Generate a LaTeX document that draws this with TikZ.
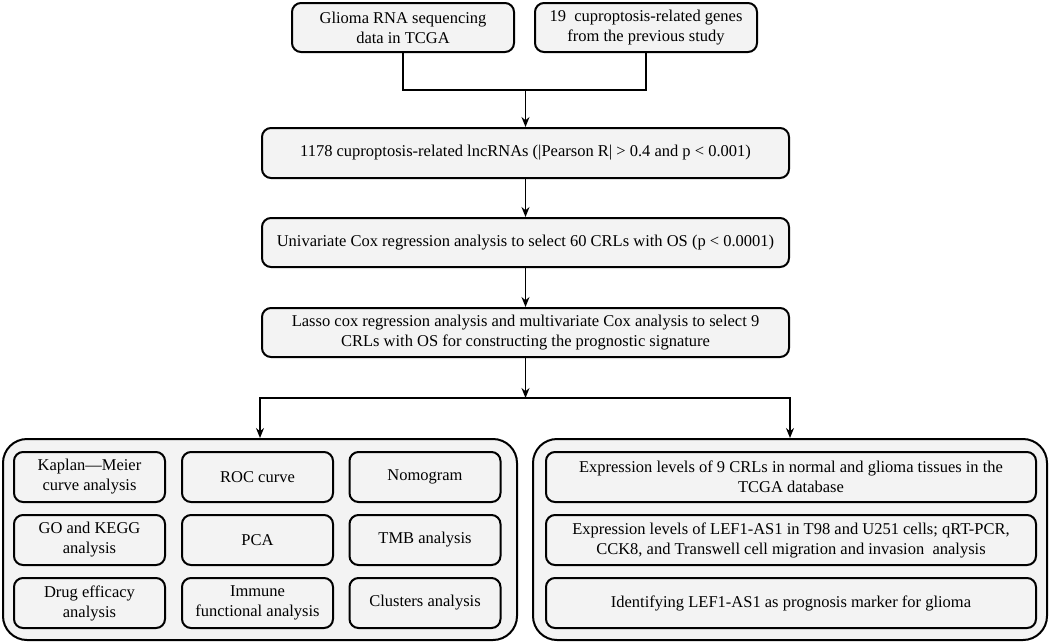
\documentclass[tikz,border=0pt]{standalone}
\usepackage{fontspec}
\setmainfont{Liberation Serif}
\usepackage{xcolor}
\usetikzlibrary{arrows.meta}

\definecolor{boxfill}{HTML}{F3F3F3}

\begin{document}
\begin{tikzpicture}[x=1pt, y=-1pt,
    font=\fontsize{16.5}{20}\selectfont,
    stepbox/.style={rectangle, draw, rounded corners=9pt, line width=2pt, fill=boxfill, align=center, inner sep=2pt},
    panel/.style={rectangle, draw, rounded corners=24pt, line width=2pt, fill=boxfill, minimum width=514pt, minimum height=201pt},
    ->/.style={-{Stealth[length=10pt, width=8pt]}},
    every path/.style={line width=1.4pt}]
    \useasboundingbox (0,0) rectangle (1052,643);

    \node (glioma) [stepbox, minimum width=222pt, minimum height=49pt] at (403,27.5) {Glioma RNA sequencing\\data in TCGA};
    \node (genes) [stepbox, minimum width=222pt, minimum height=49pt] at (646,27.5) {19\ \ cuproptosis-related genes\\from the previous study};
    \node (lnc) [stepbox, minimum width=527pt, minimum height=50pt] at (525.5,153) {1178 cuproptosis-related lncRNAs (|Pearson R| > 0.4 and p < 0.001)};
    \node (unicox) [stepbox, minimum width=527pt, minimum height=49pt] at (525.5,242.5) {Univariate Cox regression analysis to select 60 CRLs with OS (p < 0.0001)};
    \node (lasso) [stepbox, minimum width=527pt, minimum height=49pt] at (525.5,332.5) {Lasso cox regression analysis and multivariate Cox analysis to select 9\\CRLs with OS for constructing the prognostic signature};

    \node (lpanel) [panel] at (260,539.5) {};
    \node (rpanel) [panel] at (790,539.5) {};

    % left panel
    \node (km) [stepbox, minimum width=151pt, minimum height=50pt] at (89.5,477) {Kaplan\textemdash Meier\\curve analysis};
    \node (roc) [stepbox, minimum width=151pt, minimum height=50pt] at (257.5,477) {ROC curve};
    \node (nomo) [stepbox, minimum width=151pt, minimum height=50pt] at (425,477) {Nomogram};
    \node (go) [stepbox, minimum width=151pt, minimum height=50pt] at (89.5,540) {GO and KEGG\\analysis};
    \node (pca) [stepbox, minimum width=151pt, minimum height=50pt] at (257.5,540) {PCA};
    \node (tmb) [stepbox, minimum width=151pt, minimum height=50pt] at (425,540) {TMB analysis};
    \node (drug) [stepbox, minimum width=151pt, minimum height=50pt] at (89.5,603) {Drug efficacy\\analysis};
    \node (immune) [stepbox, minimum width=151pt, minimum height=50pt] at (257.5,603) {Immune\\functional analysis};
    \node (clust) [stepbox, minimum width=151pt, minimum height=50pt] at (425,603) {Clusters analysis};

    % right panel
    \node (exprtcga) [stepbox, minimum width=490pt, minimum height=50pt] at (791,477) {Expression levels of 9 CRLs in normal and glioma tissues in the\\TCGA database};
    \node (exprcell) [stepbox, minimum width=490pt, minimum height=50pt] at (791,540) {Expression levels of LEF1-AS1 in T98 and U251 cells; qRT-PCR,\\CCK8, and Transwell cell migration and invasion\ \ analysis};
    \node (marker) [stepbox, minimum width=490pt, minimum height=50pt] at (791,603) {Identifying LEF1-AS1 as prognosis marker for glioma};

    \coordinate (join) at (525.5,90);
    \coordinate (split) at (525.5,398);

    \draw (glioma.south) |- (join) -| (genes.south);
    \draw[->] (join) -- (lnc.north);
    \draw[->] (lnc) -- (unicox);
    \draw[->] (unicox) -- (lasso);
    \draw[->] (lasso.south) -- (split);
    \draw[->] (split) -| (lpanel.north);
    \draw[->] (split) -| (rpanel.north);
\end{tikzpicture}
\end{document}
